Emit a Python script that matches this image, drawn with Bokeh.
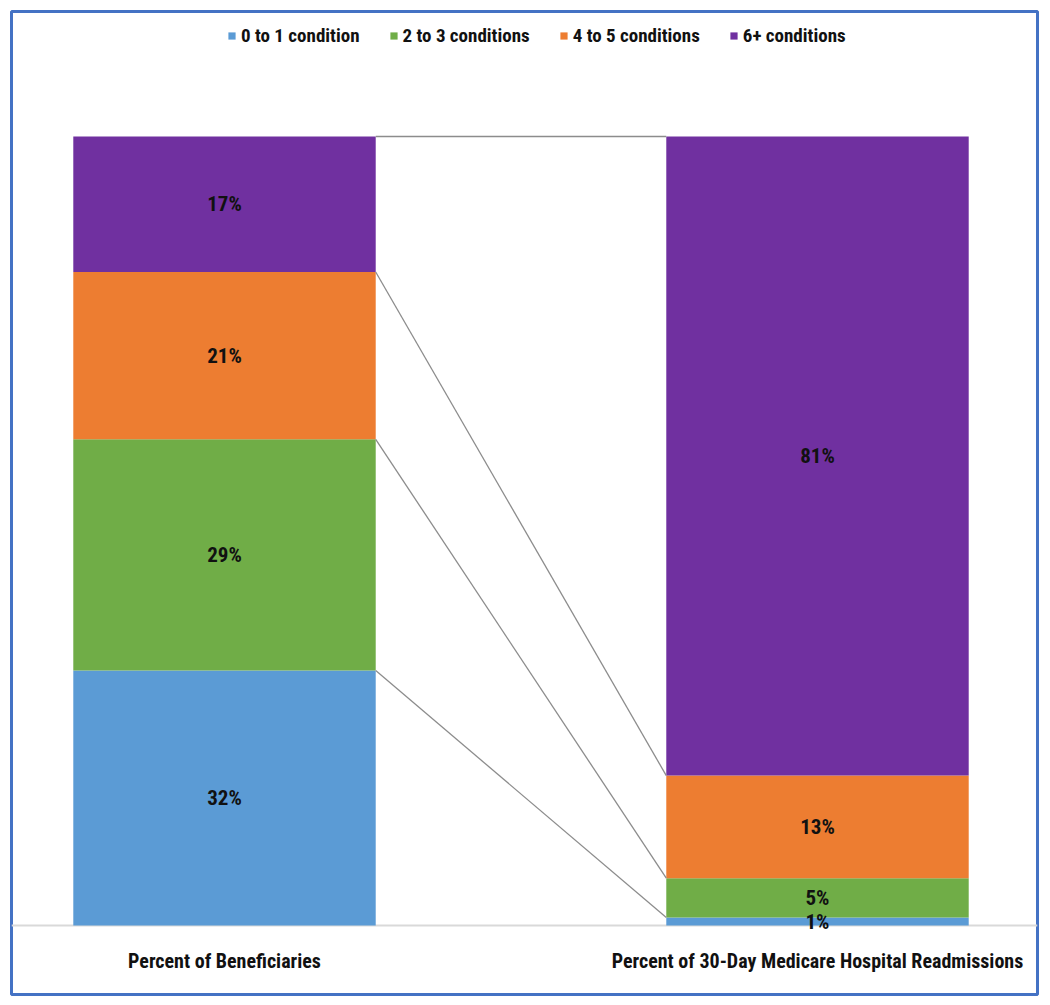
from bokeh.plotting import figure
from bokeh.models import ColumnDataSource, Range1d, Legend, LegendItem, Span
from bokeh.core.properties import value
from bokeh.embed import file_html
from bokeh.resources import INLINE

# ---- data ----
categories = ["Percent of Beneficiaries", "Percent of 30-Day Medicare Hospital Readmissions"]
series = ["0 to 1 condition", "2 to 3 conditions", "4 to 5 conditions", "6+ conditions"]
cond_0_1 = [32, 1]
cond_2_3 = [29, 5]
cond_4_5 = [21, 13]
cond_6_plus = [17, 81]
colors = ["#5B9BD5", "#70AD47", "#ED7D31", "#7030A0"]

values = [cond_0_1, cond_2_3, cond_4_5, cond_6_plus]
FONT_NAME = "'Liberation Sans Narrow', 'Roboto Condensed', 'DejaVu Sans Condensed', sans-serif"
FONT = value(FONT_NAME)

xs = list(range(len(categories)))
totals = [sum(v[i] for v in values) for i in xs]
keys = [f"s{k}" for k in range(len(series))]
data = {"x": xs}
for k, v in zip(keys, values):
    data[k] = [v[i] / totals[i] * 100 for i in xs]   # 100% stacked
source = ColumnDataSource(data)

BAR_W = 0.51

p = figure(width=1040, height=996, output_backend="svg", toolbar_location=None,
           x_range=Range1d(-0.3592, 1.371), y_range=Range1d(-8.745, 115.84),
           x_axis_location=None, y_axis_location=None,
           min_border_left=11, min_border_right=3, min_border_top=11, min_border_bottom=2)
p.grid.visible = False
p.outline_line_color = "#4472C4"
p.outline_line_width = 3
p.background_fill_color = "white"

# baseline
p.add_layout(Span(location=0, dimension="width", line_color="#D9D9D9", line_width=2, level="underlay"))

renderers = p.vbar_stack(keys, x="x", width=BAR_W, color=colors, line_color=None, source=source)

# series connector lines between segment tops
cum_l, cum_r = 0.0, 0.0
x0s, y0s, x1s, y1s = [], [], [], []
for k in keys:
    cum_l += data[k][0]
    cum_r += data[k][1]
    x0s.append(xs[0] + BAR_W / 2)
    y0s.append(cum_l)
    x1s.append(xs[1] - BAR_W / 2)
    y1s.append(cum_r)
p.segment(x0=x0s, y0=y0s, x1=x1s, y1=y1s, line_color="#8C8C8C", line_width=1.3)

# data labels
lx, ly, lt = [], [], []
for i in xs:
    cum = 0.0
    for k, v in zip(keys, values):
        h = data[k][i]
        lx.append(xs[i])
        ly.append(cum + h / 2)
        lt.append(f"{v[i]}%")
        cum += h
p.text(x=lx, y=ly, text=lt, text_align="center", text_baseline="middle",
       text_font=FONT, text_font_size="21px", text_font_style="bold", text_color="#111111")

# category labels
p.text(x=xs, y=[0] * len(xs), text=categories, y_offset=35, text_align="center",
       text_baseline="middle", text_font=FONT, text_font_size="20px",
       text_font_style="bold", text_color="#111111")

legend = Legend(items=[LegendItem(label=s, renderers=[r]) for s, r in zip(series, renderers)],
                orientation="horizontal", location=(216, 947),
                glyph_width=9, glyph_height=9, label_standoff=5, spacing=29,
                padding=0, margin=0, border_line_color=None, background_fill_alpha=0,
                label_text_font=FONT_NAME, label_text_font_size="19px",
                label_text_font_style="bold", label_text_color="#111111")
p.add_layout(legend, "center")

open("out.html", "w").write(file_html(p, INLINE))
